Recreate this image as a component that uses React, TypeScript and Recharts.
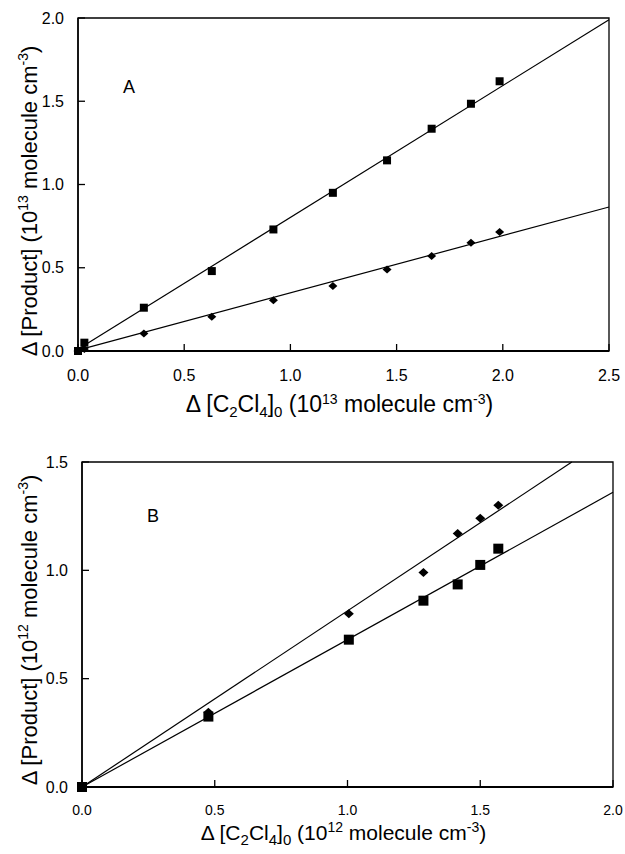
import React from 'react'
import { ScatterChart, Scatter, XAxis, YAxis, ReferenceArea, Label } from 'recharts'

// panel A (10^13 molecule cm-3)
const aX = [0, 0.03, 0.31, 0.63, 0.92, 1.2, 1.455, 1.665, 1.85, 1.985]
const aSquare = [0, 0.05, 0.26, 0.48, 0.73, 0.95, 1.145, 1.335, 1.485, 1.62]
const aDiamond = [0, 0.012, 0.105, 0.205, 0.305, 0.39, 0.49, 0.57, 0.65, 0.715]
const aFitX = [0, 2.5]
const aSquareFit = [0.01, 1.99]
const aDiamondFit = [0.005, 0.865]
const aXTicks = [0, 0.5, 1.0, 1.5, 2.0, 2.5]
const aYTicks = [0, 0.5, 1.0, 1.5, 2.0]

// panel B (10^12 molecule cm-3)
const bX = [0, 0.476, 1.005, 1.286, 1.415, 1.5, 1.568]
const bSquare = [0, 0.325, 0.68, 0.86, 0.935, 1.025, 1.1]
const bDiamond = [0, 0.345, 0.8, 0.99, 1.17, 1.24, 1.3]
const bSquareFitX = [0, 2.0]
const bSquareFit = [0, 1.36]
const bDiamondFitX = [0, 1.845]
const bDiamondFit = [0, 1.5]
const bXTicks = [0, 0.5, 1.0, 1.5, 2.0]
const bYTicks = [0, 0.5, 1.0, 1.5]

const FONT = '"Liberation Sans", Arial, Helvetica, sans-serif'

const zip = (xs: number[], ys: number[]) => xs.map((x, i) => ({ x, y: ys[i] }))

const square = (size: number) => (p: any) => (
	<rect x={p.cx - size / 2} y={p.cy - size / 2} width={size} height={size} fill="#000" />
)
const diamond = (w: number, h: number) => (p: any) => (
	<polygon
		points={`${p.cx},${p.cy - h / 2} ${p.cx + w / 2},${p.cy} ${p.cx},${p.cy + h / 2} ${p.cx - w / 2},${p.cy}`}
		fill="#000"
	/>
)
const noDot = () => <g />

function XTick(props: any) {
	const { x, y, payload, fontSize, gap } = props
	return (
		<g>
			<line x1={x} y1={y} x2={x} y2={y - 7} stroke="#000" strokeWidth={1.3} />
			<text x={x} y={y + gap} textAnchor="middle" fontSize={fontSize} fontFamily={FONT} fill="#000">
				{Number(payload.value).toFixed(1)}
			</text>
		</g>
	)
}

function YTick(props: any) {
	const { x, y, payload, fontSize } = props
	return (
		<g>
			<line x1={x} y1={y} x2={x + 7} y2={y} stroke="#000" strokeWidth={1.3} />
			<text x={x - 14} y={y + 5.5} textAnchor="end" fontSize={fontSize} fontFamily={FONT} fill="#000">
				{Number(payload.value).toFixed(1)}
			</text>
		</g>
	)
}

const xTitle = (exp: string, dy: number, fs: number) => (props: any) => {
	const { x, y, width } = props.viewBox
	return (
		<text x={x + width / 2 - 4} y={y + dy} textAnchor="middle" fontSize={fs} fontFamily={FONT} fill="#000">
			<tspan>Δ [C</tspan>
			<tspan dy={5} fontSize={15}>2</tspan>
			<tspan dy={-5}>Cl</tspan>
			<tspan dy={5} fontSize={15}>4</tspan>
			<tspan dy={-5}>]</tspan>
			<tspan dy={5} fontSize={15}>0</tspan>
			<tspan dy={-5}> (10</tspan>
			<tspan dy={-8} fontSize={14}>{exp}</tspan>
			<tspan dy={8}> molecule cm</tspan>
			<tspan dy={-8} fontSize={14}>-3</tspan>
			<tspan dy={8}>)</tspan>
		</text>
	)
}

const yTitle = (exp: string, cy: number) => () => {
	const bx = 37
	return (
		<text
			x={bx}
			y={cy}
			textAnchor="middle"
			fontSize={22}
			fontFamily={FONT}
			fill="#000"
			transform={`rotate(-90, ${bx}, ${cy})`}
		>
			<tspan>Δ [Product] (10</tspan>
			<tspan dy={-9} fontSize={14}>{exp}</tspan>
			<tspan dy={9}> molecule cm</tspan>
			<tspan dy={-9} fontSize={14}>-3</tspan>
			<tspan dy={9}>)</tspan>
		</text>
	)
}

export default function App() {
	return (
		<div style={{ position: 'absolute', left: 0, top: 0, width: 625, height: 854, background: '#fff' }}>
			<ScatterChart width={625} height={430} margin={{ top: 18, right: 16, left: 0, bottom: 0 }} style={{ position: 'absolute', left: 0, top: 0 }}>
				<XAxis
					type="number"
					dataKey="x"
					domain={[0, 2.5]}
					ticks={aXTicks}
					height={79}
					axisLine={{ stroke: '#000', strokeWidth: 2 }}
					tickLine={false}
					tickSize={0}
					tickMargin={0}
					tick={<XTick fontSize={16} gap={30} />}
				>
					<Label content={xTitle('13', 61, 23)} />
				</XAxis>
				<YAxis
					type="number"
					dataKey="y"
					domain={[0, 2.0]}
					ticks={aYTicks}
					width={78}
					axisLine={{ stroke: '#000', strokeWidth: 1.5 }}
					tickLine={false}
					tickSize={0}
					tickMargin={0}
					tick={<YTick fontSize={16} />}
				>
					<Label content={yTitle('13', 201)} />
				</YAxis>
				<ReferenceArea x1={0} x2={2.5} y1={0} y2={2.0} fill="none" fillOpacity={0} stroke="#000" strokeWidth={1.3} />
				<Scatter data={zip(aFitX, aSquareFit)} line={{ stroke: '#000', strokeWidth: 1.2 }} shape={noDot} isAnimationActive={false} />
				<Scatter data={zip(aFitX, aDiamondFit)} line={{ stroke: '#000', strokeWidth: 1.2 }} shape={noDot} isAnimationActive={false} />
				<Scatter data={zip(aX, aSquare)} shape={square(8)} isAnimationActive={false} />
				<Scatter data={zip(aX, aDiamond)} shape={diamond(9, 8)} isAnimationActive={false} />
			</ScatterChart>
			<div style={{ position: 'absolute', left: 123, top: 77, fontFamily: FONT, fontSize: 18 }}>A</div>

			<ScatterChart width={625} height={424} margin={{ top: 32, right: 12, left: 0, bottom: 0 }} style={{ position: 'absolute', left: 0, top: 430 }}>
				<XAxis
					type="number"
					dataKey="x"
					domain={[0, 2.0]}
					ticks={bXTicks}
					height={67}
					axisLine={{ stroke: '#000', strokeWidth: 2 }}
					tickLine={false}
					tickSize={0}
					tickMargin={0}
					tick={<XTick fontSize={14} gap={28} />}
				>
					<Label content={xTitle('12', 53, 21)} />
				</XAxis>
				<YAxis
					type="number"
					dataKey="y"
					domain={[0, 1.5]}
					ticks={bYTicks}
					width={82}
					axisLine={{ stroke: '#000', strokeWidth: 1.5 }}
					tickLine={false}
					tickSize={0}
					tickMargin={0}
					tick={<YTick fontSize={16} />}
				>
					<Label content={yTitle('12', 200)} />
				</YAxis>
				<ReferenceArea x1={0} x2={2.0} y1={0} y2={1.5} fill="none" fillOpacity={0} stroke="#000" strokeWidth={1.3} />
				<Scatter data={zip(bSquareFitX, bSquareFit)} line={{ stroke: '#000', strokeWidth: 1.2 }} shape={noDot} isAnimationActive={false} />
				<Scatter data={zip(bDiamondFitX, bDiamondFit)} line={{ stroke: '#000', strokeWidth: 1.2 }} shape={noDot} isAnimationActive={false} />
				<Scatter data={zip(bX, bSquare)} shape={square(10)} isAnimationActive={false} />
				<Scatter data={zip(bX, bDiamond)} shape={diamond(10, 9)} isAnimationActive={false} />
			</ScatterChart>
			<div style={{ position: 'absolute', left: 147, top: 506, fontFamily: FONT, fontSize: 18 }}>B</div>
		</div>
	)
}
